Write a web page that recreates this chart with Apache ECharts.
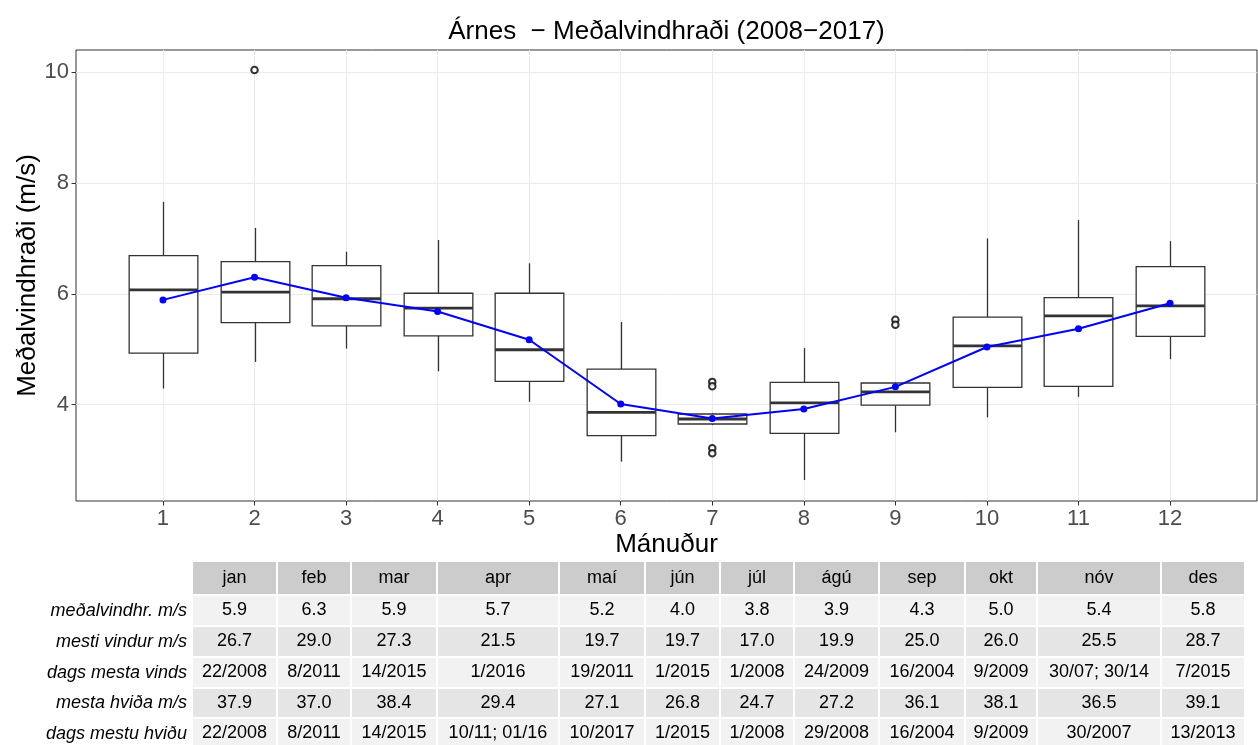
<!DOCTYPE html>
<html><head><meta charset="utf-8">
<script src="https://cdn.jsdelivr.net/npm/echarts@6/dist/echarts.min.js"></script>
<style>html,body{margin:0;padding:0;background:#fff}#chart{width:1258px;height:745px}</style>
</head><body><div id="chart"></div>
<script>
// ---- data ----
const monthNums = [1,2,3,4,5,6,7,8,9,10,11,12];
const whiskerLow  = [4.29,4.77,5.01,4.60,4.05,2.97,3.63,2.64,3.50,3.77,4.14,4.82];
const q1          = [4.93,5.48,5.42,5.24,4.42,3.44,3.65,3.48,3.99,4.31,4.33,5.23];
const median      = [6.07,6.03,5.91,5.74,4.99,3.86,3.74,4.03,4.23,5.06,5.60,5.78];
const q3          = [6.69,6.58,6.51,6.01,6.01,4.64,3.83,4.40,4.39,5.58,5.93,6.49];
const whiskerHigh = [7.66,7.19,6.76,6.97,6.55,5.49,3.85,5.02,4.40,7.00,7.33,6.95];
const means       = [5.89,6.30,5.93,5.68,5.17,4.01,3.75,3.92,4.32,5.04,5.37,5.83];
const outlierMonth = [2,7,7,7,7,9,9];
const outlierValue = [10.04,4.41,4.33,3.21,3.12,5.53,5.44];
const yTicks = [4,6,8,10];

const titleText = 'Árnes  − Meðalvindhraði (2008−2017)';
const yTitle = 'Meðalvindhraði (m/s)';
const xTitle = 'Mánuður';

const monthNames = ['jan','feb','mar','apr','maí','jún','júl','ágú','sep','okt','nóv','des'];
const rowLabels = ['meðalvindhr. m/s','mesti vindur m/s','dags mesta vinds','mesta hviða m/s','dags mestu hviðu'];
const rowMean     = ['5.9','6.3','5.9','5.7','5.2','4.0','3.8','3.9','4.3','5.0','5.4','5.8'];
const rowMaxWind  = ['26.7','29.0','27.3','21.5','19.7','19.7','17.0','19.9','25.0','26.0','25.5','28.7'];
const rowWindDate = ['22/2008','8/2011','14/2015','1/2016','19/2011','1/2015','1/2008','24/2009','16/2004','9/2009','30/07; 30/14','7/2015'];
const rowMaxGust  = ['37.9','37.0','38.4','29.4','27.1','26.8','24.7','27.2','36.1','38.1','36.5','39.1'];
const rowGustDate = ['22/2008','8/2011','14/2015','10/11; 01/16','10/2017','1/2015','1/2008','29/2008','16/2004','9/2009','30/2007','13/2013'];

// ---- layout ----
const FONT = '"Liberation Sans", Arial, Helvetica, sans-serif';
const GRID = {left:76, top:50, width:1181, height:451};
const colEdges = [192,277,351,437,559,645,720,794,879,965,1037,1161,1245];
const rowEdges = [561,595,626,657,688,718,749];
const labelRight = 187;

const chart = echarts.init(document.getElementById('chart'), null, {renderer:'canvas'});

const boxData = monthNums.map((m,i)=>[m, whiskerLow[i], q1[i], median[i], q3[i], whiskerHigh[i]]);
const outlierData = outlierMonth.map((m,i)=>[m, outlierValue[i]]);
const meanData = monthNums.map((m,i)=>[m, means[i]]);

const graphics = [];
graphics.push({type:'text', x:GRID.left+GRID.width/2, y:32, style:{text:titleText, font:'26px '+FONT, fill:'#000', textAlign:'center', textVerticalAlign:'middle'}});
graphics.push({type:'text', x:28, y:GRID.top+GRID.height/2, rotation:Math.PI/2, style:{text:yTitle, font:'26px '+FONT, fill:'#000', textAlign:'center', textVerticalAlign:'middle'}});
graphics.push({type:'text', x:GRID.left+GRID.width/2, y:545, style:{text:xTitle, font:'26px '+FONT, fill:'#000', textAlign:'center', textVerticalAlign:'middle'}});

const bodyRows = [rowMean, rowMaxWind, rowWindDate, rowMaxGust, rowGustDate];
const tableRows = [monthNames].concat(bodyRows);
const fills = ['#CCCCCC','#F2F2F2','#E5E5E5','#F2F2F2','#E5E5E5','#F2F2F2'];
tableRows.forEach((row, r)=>{
  const y0 = rowEdges[r], y1 = rowEdges[r+1];
  row.forEach((txt, c)=>{
    const x0 = colEdges[c], x1 = colEdges[c+1];
    graphics.push({type:'rect', shape:{x:x0+1, y:y0+1, width:x1-x0-2, height:y1-y0-2}, style:{fill:fills[r]}, silent:true});
    graphics.push({type:'text', x:(x0+x1)/2, y:(y0+y1)/2, style:{text:txt, font:'18px '+FONT, fill:'#000', textAlign:'center', textVerticalAlign:'middle'}});
  });
  if (r>0) {
    graphics.push({type:'text', x:labelRight, y:(y0+y1)/2, style:{text:rowLabels[r-1], font:'italic 18px '+FONT, fill:'#000', textAlign:'right', textVerticalAlign:'middle'}});
  }
});

const option = {
  animation:false,
  backgroundColor:'#fff',
  grid:{left:GRID.left, top:GRID.top, width:GRID.width, height:GRID.height, show:true, borderColor:'#333333', borderWidth:1, backgroundColor:'#fff', containLabel:false},
  xAxis:{type:'value', min:0.05, max:12.95,
    axisLine:{show:false},
    axisTick:{show:true, length:4.5, customValues:monthNums, lineStyle:{color:'#333333', width:1}},
    axisLabel:{customValues:monthNums, color:'#4D4D4D', fontSize:22, fontFamily:FONT, margin:7},
    splitLine:{show:true, lineStyle:{color:'#EBEBEB', width:1}}},
  yAxis:{type:'value', min:2.26, max:10.40,
    axisLine:{show:false},
    axisTick:{show:true, length:4.5, customValues:yTicks, lineStyle:{color:'#333333', width:1}},
    axisLabel:{customValues:yTicks, color:'#4D4D4D', fontSize:22, fontFamily:FONT, margin:7},
    splitLine:{show:true, lineStyle:{color:'#EBEBEB', width:1}}},
  graphic:graphics,
  series:[
    {type:'custom', data:boxData, encode:{x:0, y:[1,2,3,4,5]}, z:2,
      renderItem:function(params, api){
        const x = api.value(0);
        const lo = api.coord([x, api.value(1)]);
        const b = api.coord([x, api.value(2)]);
        const md = api.coord([x, api.value(3)]);
        const t = api.coord([x, api.value(4)]);
        const hi = api.coord([x, api.value(5)]);
        const w = api.size([0.75, 0])[0];
        const cx = Math.round(lo[0]) + 0.5;
        const stroke = '#333333';
        return {type:'group', children:[
          {type:'line', shape:{x1:cx, y1:hi[1], x2:cx, y2:t[1]}, style:{stroke:stroke, lineWidth:1.3}},
          {type:'line', shape:{x1:cx, y1:b[1], x2:cx, y2:lo[1]}, style:{stroke:stroke, lineWidth:1.3}},
          {type:'rect', shape:{x:cx-w/2, y:t[1], width:w, height:b[1]-t[1]}, style:{fill:'#fff', stroke:stroke, lineWidth:1.3}},
          {type:'line', shape:{x1:cx-w/2, y1:md[1], x2:cx+w/2, y2:md[1]}, style:{stroke:stroke, lineWidth:2.8}}
        ]};
      }},
    {type:'scatter', data:outlierData, symbol:'emptyCircle', symbolSize:6.5, z:3,
      itemStyle:{color:'#000', borderColor:'#000', borderWidth:1}},
    {type:'line', data:meanData, z:4, symbol:'circle', symbolSize:7, showSymbol:true,
      lineStyle:{color:'#0000FF', width:2}, itemStyle:{color:'#0000FF'}}
  ]
};
chart.setOption(option);
</script></body></html>
